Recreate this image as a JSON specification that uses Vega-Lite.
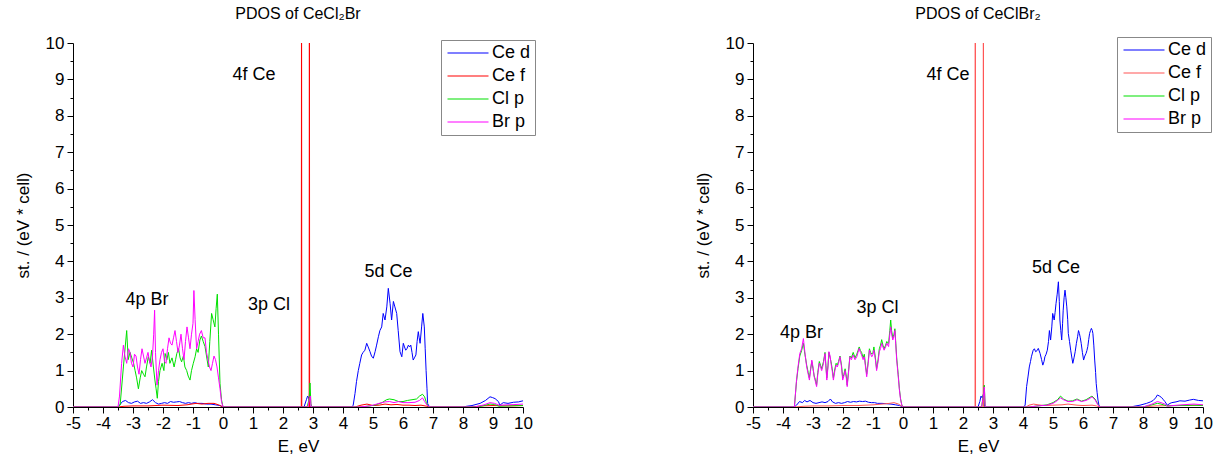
{
"$schema": "https://vega.github.io/schema/vega-lite/v6.json",
"background": "white",
"padding": {"left": 14, "top": 6, "right": 0, "bottom": 0},
"config": {
 "view": {"stroke": null},
 "font": "Liberation Sans",
 "axis": {"domainColor": "black", "tickColor": "black", "labelColor": "black", "titleColor": "black", "labelFont": "Liberation Sans", "titleFont": "Liberation Sans", "labelFontSize": 17, "titleFontSize": 17, "titleFontWeight": "normal", "grid": false, "domainWidth": 1, "tickWidth": 1},
 "legend": {"symbolType": "M-4.1,0H4.1", "symbolSize": 100, "symbolStrokeWidth": 1.2, "symbolOffset": 14, "labelOffset": 15, "labelFontSize": 18, "labelFont": "Liberation Sans", "labelColor": "black", "padding": 4, "rowPadding": 5, "strokeColor": "#888888", "fillColor": "white", "title": null},
 "title": {"fontSize": 16, "fontWeight": "normal", "font": "Liberation Sans", "color": "black"}
},
"datasets": {
"L": [
{"s":"Ce d","E":-5,"v":0},{"s":"Ce d","E":-3.5,"v":0},{"s":"Ce d","E":-3.45,"v":0.05},{"s":"Ce d","E":-3.35,"v":0.15},{"s":"Ce d","E":-3.25,"v":0.18},{"s":"Ce d","E":-3.15,"v":0.12},{"s":"Ce d","E":-3.05,"v":0.1},{"s":"Ce d","E":-2.95,"v":0.14},{"s":"Ce d","E":-2.85,"v":0.16},{"s":"Ce d","E":-2.75,"v":0.1},{"s":"Ce d","E":-2.65,"v":0.12},{"s":"Ce d","E":-2.55,"v":0.1},{"s":"Ce d","E":-2.45,"v":0.14},{"s":"Ce d","E":-2.35,"v":0.2},{"s":"Ce d","E":-2.25,"v":0.12},{"s":"Ce d","E":-2.15,"v":0.08},{"s":"Ce d","E":-2.05,"v":0.1},{"s":"Ce d","E":-1.95,"v":0.12},{"s":"Ce d","E":-1.85,"v":0.1},{"s":"Ce d","E":-1.75,"v":0.15},{"s":"Ce d","E":-1.65,"v":0.13},{"s":"Ce d","E":-1.55,"v":0.14},{"s":"Ce d","E":-1.45,"v":0.15},{"s":"Ce d","E":-1.35,"v":0.12},{"s":"Ce d","E":-1.25,"v":0.1},{"s":"Ce d","E":-1.15,"v":0.12},{"s":"Ce d","E":-1.05,"v":0.1},{"s":"Ce d","E":-0.95,"v":0.12},{"s":"Ce d","E":-0.85,"v":0.1},{"s":"Ce d","E":-0.7,"v":0.1},{"s":"Ce d","E":-0.55,"v":0.08},{"s":"Ce d","E":-0.4,"v":0.08},{"s":"Ce d","E":-0.25,"v":0.06},{"s":"Ce d","E":-0.1,"v":0.04},{"s":"Ce d","E":0,"v":0},{"s":"Ce d","E":2.7,"v":0},{"s":"Ce d","E":2.78,"v":0.2},{"s":"Ce d","E":2.82,"v":0.3},{"s":"Ce d","E":2.86,"v":0.25},{"s":"Ce d","E":2.9,"v":0},
{"s":"Ce d","E":4.3,"v":0},{"s":"Ce d","E":4.34,"v":0.05},{"s":"Ce d","E":4.4,"v":0.37},{"s":"Ce d","E":4.45,"v":0.7},{"s":"Ce d","E":4.51,"v":1.0},{"s":"Ce d","E":4.56,"v":1.2},{"s":"Ce d","E":4.62,"v":1.43},{"s":"Ce d","E":4.67,"v":1.5},{"s":"Ce d","E":4.73,"v":1.56},{"s":"Ce d","E":4.79,"v":1.75},{"s":"Ce d","E":4.84,"v":1.65},{"s":"Ce d","E":4.9,"v":1.52},{"s":"Ce d","E":4.95,"v":1.4},{"s":"Ce d","E":5.01,"v":1.34},{"s":"Ce d","E":5.07,"v":1.52},{"s":"Ce d","E":5.12,"v":1.7},{"s":"Ce d","E":5.18,"v":1.93},{"s":"Ce d","E":5.23,"v":2.1},{"s":"Ce d","E":5.29,"v":2.2},{"s":"Ce d","E":5.34,"v":2.57},{"s":"Ce d","E":5.4,"v":2.39},{"s":"Ce d","E":5.46,"v":2.75},{"s":"Ce d","E":5.51,"v":3.26},{"s":"Ce d","E":5.57,"v":2.84},{"s":"Ce d","E":5.62,"v":2.39},{"s":"Ce d","E":5.68,"v":2.9},{"s":"Ce d","E":5.73,"v":2.75},{"s":"Ce d","E":5.79,"v":2.57},{"s":"Ce d","E":5.84,"v":2.1},{"s":"Ce d","E":5.9,"v":1.52},{"s":"Ce d","E":5.96,"v":1.38},{"s":"Ce d","E":6.01,"v":1.75},{"s":"Ce d","E":6.05,"v":1.65},{"s":"Ce d","E":6.09,"v":1.56},{"s":"Ce d","E":6.13,"v":1.6},{"s":"Ce d","E":6.18,"v":1.7},{"s":"Ce d","E":6.22,"v":1.65},{"s":"Ce d","E":6.26,"v":1.7},{"s":"Ce d","E":6.3,"v":1.5},{"s":"Ce d","E":6.34,"v":1.29},{"s":"Ce d","E":6.38,"v":1.35},{"s":"Ce d","E":6.43,"v":1.43},{"s":"Ce d","E":6.47,"v":1.8},{"s":"Ce d","E":6.51,"v":2.07},{"s":"Ce d","E":6.54,"v":1.9},{"s":"Ce d","E":6.57,"v":1.75},{"s":"Ce d","E":6.62,"v":2.2},{"s":"Ce d","E":6.66,"v":2.57},{"s":"Ce d","E":6.71,"v":2.2},{"s":"Ce d","E":6.74,"v":1.6},{"s":"Ce d","E":6.77,"v":1.0},{"s":"Ce d","E":6.8,"v":0.5},{"s":"Ce d","E":6.82,"v":0.1},{"s":"Ce d","E":6.88,"v":0},
{"s":"Ce d","E":8.0,"v":0},{"s":"Ce d","E":8.12,"v":0.02},{"s":"Ce d","E":8.3,"v":0.04},{"s":"Ce d","E":8.57,"v":0.1},{"s":"Ce d","E":8.75,"v":0.18},{"s":"Ce d","E":8.9,"v":0.28},{"s":"Ce d","E":8.98,"v":0.26},{"s":"Ce d","E":9.07,"v":0.23},{"s":"Ce d","E":9.18,"v":0.15},{"s":"Ce d","E":9.23,"v":0.05},{"s":"Ce d","E":9.34,"v":0.12},{"s":"Ce d","E":9.5,"v":0.1},{"s":"Ce d","E":9.68,"v":0.13},{"s":"Ce d","E":9.85,"v":0.14},{"s":"Ce d","E":10,"v":0.17},

{"s":"Ce f","E":-5,"v":0},{"s":"Ce f","E":-3.5,"v":0},{"s":"Ce f","E":-3.3,"v":0.02},{"s":"Ce f","E":-3,"v":0.03},{"s":"Ce f","E":-2.5,"v":0.03},{"s":"Ce f","E":-2,"v":0.05},{"s":"Ce f","E":-1.5,"v":0.04},{"s":"Ce f","E":-1.2,"v":0.06},{"s":"Ce f","E":-0.9,"v":0.1},{"s":"Ce f","E":-0.7,"v":0.08},{"s":"Ce f","E":-0.5,"v":0.1},{"s":"Ce f","E":-0.3,"v":0.1},{"s":"Ce f","E":-0.15,"v":0.06},{"s":"Ce f","E":0,"v":0},{"s":"Ce f","E":2.61,"v":0},{"s":"Ce f","E":2.618,"v":14},{"s":"Ce f","E":2.626,"v":0},{"s":"Ce f","E":2.872,"v":0},{"s":"Ce f","E":2.88,"v":14},{"s":"Ce f","E":2.888,"v":0},{"s":"Ce f","E":4.4,"v":0},{"s":"Ce f","E":4.6,"v":0.05},{"s":"Ce f","E":4.8,"v":0.08},{"s":"Ce f","E":5.0,"v":0.04},{"s":"Ce f","E":5.2,"v":0.05},{"s":"Ce f","E":5.4,"v":0.08},{"s":"Ce f","E":5.6,"v":0.06},{"s":"Ce f","E":5.8,"v":0.07},{"s":"Ce f","E":6.0,"v":0.05},{"s":"Ce f","E":6.2,"v":0.05},{"s":"Ce f","E":6.4,"v":0.04},{"s":"Ce f","E":6.6,"v":0.05},{"s":"Ce f","E":6.8,"v":0.02},{"s":"Ce f","E":6.9,"v":0},{"s":"Ce f","E":8.3,"v":0},{"s":"Ce f","E":8.6,"v":0.03},{"s":"Ce f","E":9,"v":0.04},{"s":"Ce f","E":9.5,"v":0.03},{"s":"Ce f","E":10,"v":0.04},

{"s":"Cl p","E":-5,"v":0},{"s":"Cl p","E":-3.5,"v":0},{"s":"Cl p","E":-3.43,"v":0.05},{"s":"Cl p","E":-3.32,"v":1.1},{"s":"Cl p","E":-3.21,"v":2.1},{"s":"Cl p","E":-3.16,"v":1.3},{"s":"Cl p","E":-3.1,"v":1.5},{"s":"Cl p","E":-3.04,"v":1.35},{"s":"Cl p","E":-2.98,"v":1.2},{"s":"Cl p","E":-2.93,"v":1.0},{"s":"Cl p","E":-2.88,"v":0.8},{"s":"Cl p","E":-2.82,"v":0.5},{"s":"Cl p","E":-2.76,"v":0.8},{"s":"Cl p","E":-2.71,"v":1.0},{"s":"Cl p","E":-2.65,"v":0.9},{"s":"Cl p","E":-2.6,"v":0.83},{"s":"Cl p","E":-2.55,"v":1.1},{"s":"Cl p","E":-2.49,"v":1.38},{"s":"Cl p","E":-2.43,"v":1.2},{"s":"Cl p","E":-2.38,"v":1.56},{"s":"Cl p","E":-2.32,"v":1.1},{"s":"Cl p","E":-2.27,"v":0.74},{"s":"Cl p","E":-2.23,"v":0.5},{"s":"Cl p","E":-2.19,"v":0.24},{"s":"Cl p","E":-2.15,"v":0.7},{"s":"Cl p","E":-2.1,"v":1.0},{"s":"Cl p","E":-2.03,"v":1.2},{"s":"Cl p","E":-1.97,"v":1.0},{"s":"Cl p","E":-1.93,"v":1.47},{"s":"Cl p","E":-1.87,"v":1.3},{"s":"Cl p","E":-1.82,"v":1.5},{"s":"Cl p","E":-1.77,"v":1.2},{"s":"Cl p","E":-1.7,"v":1.35},{"s":"Cl p","E":-1.63,"v":1.1},{"s":"Cl p","E":-1.58,"v":1.3},{"s":"Cl p","E":-1.54,"v":1.47},{"s":"Cl p","E":-1.48,"v":1.6},{"s":"Cl p","E":-1.43,"v":1.35},{"s":"Cl p","E":-1.38,"v":1.24},{"s":"Cl p","E":-1.32,"v":1.4},{"s":"Cl p","E":-1.27,"v":1.1},{"s":"Cl p","E":-1.21,"v":1.0},{"s":"Cl p","E":-1.16,"v":0.85},{"s":"Cl p","E":-1.1,"v":0.74},{"s":"Cl p","E":-1.05,"v":1.0},{"s":"Cl p","E":-0.99,"v":1.2},{"s":"Cl p","E":-0.93,"v":1.38},{"s":"Cl p","E":-0.88,"v":1.6},{"s":"Cl p","E":-0.83,"v":1.5},{"s":"Cl p","E":-0.77,"v":1.84},{"s":"Cl p","E":-0.72,"v":1.95},{"s":"Cl p","E":-0.66,"v":1.8},{"s":"Cl p","E":-0.6,"v":1.66},{"s":"Cl p","E":-0.55,"v":1.4},{"s":"Cl p","E":-0.49,"v":1.1},{"s":"Cl p","E":-0.44,"v":1.8},{"s":"Cl p","E":-0.38,"v":2.57},{"s":"Cl p","E":-0.33,"v":2.4},{"s":"Cl p","E":-0.27,"v":2.2},{"s":"Cl p","E":-0.23,"v":2.7},{"s":"Cl p","E":-0.19,"v":3.1},{"s":"Cl p","E":-0.15,"v":2.0},{"s":"Cl p","E":-0.1,"v":0.65},{"s":"Cl p","E":-0.05,"v":0.2},{"s":"Cl p","E":0,"v":0},{"s":"Cl p","E":2.8,"v":0},{"s":"Cl p","E":2.87,"v":0.2},{"s":"Cl p","E":2.9,"v":0.66},{"s":"Cl p","E":2.93,"v":0.1},{"s":"Cl p","E":2.96,"v":0},{"s":"Cl p","E":4.6,"v":0},{"s":"Cl p","E":4.9,"v":0.03},{"s":"Cl p","E":5.1,"v":0.06},{"s":"Cl p","E":5.3,"v":0.12},{"s":"Cl p","E":5.45,"v":0.2},{"s":"Cl p","E":5.55,"v":0.22},{"s":"Cl p","E":5.7,"v":0.2},{"s":"Cl p","E":5.85,"v":0.15},{"s":"Cl p","E":6.0,"v":0.15},{"s":"Cl p","E":6.15,"v":0.18},{"s":"Cl p","E":6.3,"v":0.2},{"s":"Cl p","E":6.45,"v":0.22},{"s":"Cl p","E":6.55,"v":0.3},{"s":"Cl p","E":6.65,"v":0.35},{"s":"Cl p","E":6.72,"v":0.28},{"s":"Cl p","E":6.78,"v":0.12},{"s":"Cl p","E":6.85,"v":0},{"s":"Cl p","E":8.5,"v":0},{"s":"Cl p","E":8.8,"v":0.06},{"s":"Cl p","E":8.9,"v":0.08},{"s":"Cl p","E":9.05,"v":0.07},{"s":"Cl p","E":9.2,"v":0.02},{"s":"Cl p","E":9.5,"v":0.03},{"s":"Cl p","E":10,"v":0.04},

{"s":"Br p","E":-5,"v":0},{"s":"Br p","E":-3.5,"v":0},{"s":"Br p","E":-3.45,"v":0.3},{"s":"Br p","E":-3.38,"v":1.2},{"s":"Br p","E":-3.32,"v":1.7},{"s":"Br p","E":-3.27,"v":1.4},{"s":"Br p","E":-3.21,"v":1.2},{"s":"Br p","E":-3.15,"v":1.6},{"s":"Br p","E":-3.1,"v":1.5},{"s":"Br p","E":-3.05,"v":1.2},{"s":"Br p","E":-3.0,"v":1.1},{"s":"Br p","E":-2.95,"v":1.45},{"s":"Br p","E":-2.9,"v":1.4},{"s":"Br p","E":-2.85,"v":1.1},{"s":"Br p","E":-2.8,"v":0.9},{"s":"Br p","E":-2.75,"v":1.3},{"s":"Br p","E":-2.7,"v":1.6},{"s":"Br p","E":-2.65,"v":1.4},{"s":"Br p","E":-2.6,"v":1.2},{"s":"Br p","E":-2.55,"v":1.35},{"s":"Br p","E":-2.5,"v":1.5},{"s":"Br p","E":-2.45,"v":1.25},{"s":"Br p","E":-2.4,"v":1.1},{"s":"Br p","E":-2.35,"v":1.4},{"s":"Br p","E":-2.31,"v":2.0},{"s":"Br p","E":-2.28,"v":2.66},{"s":"Br p","E":-2.25,"v":1.5},{"s":"Br p","E":-2.2,"v":0.6},{"s":"Br p","E":-2.15,"v":1.0},{"s":"Br p","E":-2.1,"v":1.3},{"s":"Br p","E":-2.05,"v":1.5},{"s":"Br p","E":-2.0,"v":1.6},{"s":"Br p","E":-1.95,"v":1.25},{"s":"Br p","E":-1.9,"v":1.2},{"s":"Br p","E":-1.85,"v":1.6},{"s":"Br p","E":-1.8,"v":1.9},{"s":"Br p","E":-1.75,"v":1.75},{"s":"Br p","E":-1.7,"v":1.7},{"s":"Br p","E":-1.65,"v":1.9},{"s":"Br p","E":-1.6,"v":2.1},{"s":"Br p","E":-1.55,"v":1.8},{"s":"Br p","E":-1.5,"v":1.5},{"s":"Br p","E":-1.45,"v":1.7},{"s":"Br p","E":-1.4,"v":2.0},{"s":"Br p","E":-1.35,"v":1.6},{"s":"Br p","E":-1.3,"v":1.3},{"s":"Br p","E":-1.25,"v":1.8},{"s":"Br p","E":-1.2,"v":2.2},{"s":"Br p","E":-1.15,"v":1.9},{"s":"Br p","E":-1.1,"v":1.6},{"s":"Br p","E":-1.05,"v":2.0},{"s":"Br p","E":-1.0,"v":2.3},{"s":"Br p","E":-0.97,"v":3.2},{"s":"Br p","E":-0.93,"v":2.4},{"s":"Br p","E":-0.88,"v":1.6},{"s":"Br p","E":-0.83,"v":1.8},{"s":"Br p","E":-0.78,"v":2.0},{"s":"Br p","E":-0.72,"v":2.1},{"s":"Br p","E":-0.66,"v":1.9},{"s":"Br p","E":-0.6,"v":1.9},{"s":"Br p","E":-0.55,"v":1.5},{"s":"Br p","E":-0.5,"v":1.3},{"s":"Br p","E":-0.45,"v":1.1},{"s":"Br p","E":-0.4,"v":1.0},{"s":"Br p","E":-0.35,"v":1.2},{"s":"Br p","E":-0.3,"v":1.4},{"s":"Br p","E":-0.25,"v":1.3},{"s":"Br p","E":-0.2,"v":1.1},{"s":"Br p","E":-0.15,"v":0.8},{"s":"Br p","E":-0.1,"v":0.5},{"s":"Br p","E":-0.05,"v":0.15},{"s":"Br p","E":0,"v":0},{"s":"Br p","E":2.83,"v":0},{"s":"Br p","E":2.88,"v":0.2},{"s":"Br p","E":2.91,"v":0.3},{"s":"Br p","E":2.94,"v":0},{"s":"Br p","E":4.5,"v":0},{"s":"Br p","E":4.8,"v":0.02},{"s":"Br p","E":5.0,"v":0.05},{"s":"Br p","E":5.2,"v":0.1},{"s":"Br p","E":5.4,"v":0.14},{"s":"Br p","E":5.55,"v":0.15},{"s":"Br p","E":5.7,"v":0.12},{"s":"Br p","E":5.85,"v":0.15},{"s":"Br p","E":6.0,"v":0.12},{"s":"Br p","E":6.2,"v":0.12},{"s":"Br p","E":6.4,"v":0.13},{"s":"Br p","E":6.55,"v":0.18},{"s":"Br p","E":6.65,"v":0.25},{"s":"Br p","E":6.72,"v":0.15},{"s":"Br p","E":6.8,"v":0.05},{"s":"Br p","E":6.9,"v":0},{"s":"Br p","E":8.4,"v":0},{"s":"Br p","E":8.7,"v":0.06},{"s":"Br p","E":8.9,"v":0.12},{"s":"Br p","E":9.05,"v":0.1},{"s":"Br p","E":9.2,"v":0.05},{"s":"Br p","E":9.5,"v":0.06},{"s":"Br p","E":9.8,"v":0.07},{"s":"Br p","E":10,"v":0.08}
],
"R": [
{"s":"Ce d","E":-5,"v":0},{"s":"Ce d","E":-3.62,"v":0},{"s":"Ce d","E":-3.55,"v":0.05},{"s":"Ce d","E":-3.45,"v":0.15},{"s":"Ce d","E":-3.35,"v":0.12},{"s":"Ce d","E":-3.28,"v":0.18},{"s":"Ce d","E":-3.2,"v":0.14},{"s":"Ce d","E":-3.1,"v":0.18},{"s":"Ce d","E":-3.0,"v":0.12},{"s":"Ce d","E":-2.9,"v":0.1},{"s":"Ce d","E":-2.8,"v":0.12},{"s":"Ce d","E":-2.7,"v":0.14},{"s":"Ce d","E":-2.6,"v":0.12},{"s":"Ce d","E":-2.5,"v":0.15},{"s":"Ce d","E":-2.42,"v":0.22},{"s":"Ce d","E":-2.35,"v":0.14},{"s":"Ce d","E":-2.25,"v":0.1},{"s":"Ce d","E":-2.15,"v":0.12},{"s":"Ce d","E":-2.05,"v":0.1},{"s":"Ce d","E":-1.95,"v":0.12},{"s":"Ce d","E":-1.85,"v":0.15},{"s":"Ce d","E":-1.75,"v":0.13},{"s":"Ce d","E":-1.65,"v":0.15},{"s":"Ce d","E":-1.55,"v":0.14},{"s":"Ce d","E":-1.45,"v":0.16},{"s":"Ce d","E":-1.35,"v":0.15},{"s":"Ce d","E":-1.25,"v":0.16},{"s":"Ce d","E":-1.15,"v":0.13},{"s":"Ce d","E":-1.05,"v":0.12},{"s":"Ce d","E":-0.95,"v":0.12},{"s":"Ce d","E":-0.85,"v":0.1},{"s":"Ce d","E":-0.7,"v":0.1},{"s":"Ce d","E":-0.55,"v":0.09},{"s":"Ce d","E":-0.4,"v":0.08},{"s":"Ce d","E":-0.25,"v":0.06},{"s":"Ce d","E":-0.12,"v":0.04},{"s":"Ce d","E":0,"v":0},{"s":"Ce d","E":2.5,"v":0},{"s":"Ce d","E":2.56,"v":0.15},{"s":"Ce d","E":2.6,"v":0.3},{"s":"Ce d","E":2.64,"v":0.25},{"s":"Ce d","E":2.68,"v":0.35},{"s":"Ce d","E":2.72,"v":0},
{"s":"Ce d","E":4.0,"v":0},{"s":"Ce d","E":4.07,"v":0.04},{"s":"Ce d","E":4.12,"v":0.56},{"s":"Ce d","E":4.17,"v":0.85},{"s":"Ce d","E":4.21,"v":1.1},{"s":"Ce d","E":4.25,"v":1.25},{"s":"Ce d","E":4.28,"v":1.38},{"s":"Ce d","E":4.34,"v":1.56},{"s":"Ce d","E":4.38,"v":1.6},{"s":"Ce d","E":4.42,"v":1.52},{"s":"Ce d","E":4.47,"v":1.55},{"s":"Ce d","E":4.51,"v":1.61},{"s":"Ce d","E":4.57,"v":1.47},{"s":"Ce d","E":4.62,"v":1.3},{"s":"Ce d","E":4.66,"v":1.15},{"s":"Ce d","E":4.7,"v":1.25},{"s":"Ce d","E":4.73,"v":1.38},{"s":"Ce d","E":4.77,"v":1.45},{"s":"Ce d","E":4.81,"v":1.56},{"s":"Ce d","E":4.85,"v":1.8},{"s":"Ce d","E":4.88,"v":2.1},{"s":"Ce d","E":4.92,"v":1.84},{"s":"Ce d","E":4.96,"v":2.2},{"s":"Ce d","E":4.99,"v":2.57},{"s":"Ce d","E":5.04,"v":2.39},{"s":"Ce d","E":5.07,"v":2.6},{"s":"Ce d","E":5.1,"v":2.84},{"s":"Ce d","E":5.14,"v":3.1},{"s":"Ce d","E":5.18,"v":3.44},{"s":"Ce d","E":5.21,"v":2.9},{"s":"Ce d","E":5.23,"v":2.39},{"s":"Ce d","E":5.26,"v":2.1},{"s":"Ce d","E":5.29,"v":1.84},{"s":"Ce d","E":5.32,"v":2.3},{"s":"Ce d","E":5.34,"v":2.66},{"s":"Ce d","E":5.37,"v":3.0},{"s":"Ce d","E":5.4,"v":3.21},{"s":"Ce d","E":5.43,"v":3.0},{"s":"Ce d","E":5.46,"v":2.75},{"s":"Ce d","E":5.49,"v":2.4},{"s":"Ce d","E":5.51,"v":2.02},{"s":"Ce d","E":5.55,"v":1.8},{"s":"Ce d","E":5.59,"v":1.56},{"s":"Ce d","E":5.62,"v":1.4},{"s":"Ce d","E":5.66,"v":1.2},{"s":"Ce d","E":5.7,"v":1.35},{"s":"Ce d","E":5.74,"v":1.52},{"s":"Ce d","E":5.78,"v":1.75},{"s":"Ce d","E":5.82,"v":1.93},{"s":"Ce d","E":5.85,"v":2.1},{"s":"Ce d","E":5.88,"v":2.02},{"s":"Ce d","E":5.91,"v":1.9},{"s":"Ce d","E":5.94,"v":1.75},{"s":"Ce d","E":5.98,"v":1.5},{"s":"Ce d","E":6.02,"v":1.29},{"s":"Ce d","E":6.06,"v":1.4},{"s":"Ce d","E":6.1,"v":1.47},{"s":"Ce d","E":6.13,"v":1.55},{"s":"Ce d","E":6.16,"v":1.66},{"s":"Ce d","E":6.19,"v":1.85},{"s":"Ce d","E":6.22,"v":2.02},{"s":"Ce d","E":6.25,"v":2.1},{"s":"Ce d","E":6.28,"v":2.16},{"s":"Ce d","E":6.31,"v":2.1},{"s":"Ce d","E":6.33,"v":2.02},{"s":"Ce d","E":6.36,"v":1.7},{"s":"Ce d","E":6.39,"v":1.29},{"s":"Ce d","E":6.42,"v":0.95},{"s":"Ce d","E":6.44,"v":0.65},{"s":"Ce d","E":6.47,"v":0.4},{"s":"Ce d","E":6.5,"v":0.19},{"s":"Ce d","E":6.53,"v":0.05},{"s":"Ce d","E":6.56,"v":0},
{"s":"Ce d","E":7.6,"v":0},{"s":"Ce d","E":7.7,"v":0.02},{"s":"Ce d","E":7.9,"v":0.05},{"s":"Ce d","E":8.12,"v":0.1},{"s":"Ce d","E":8.25,"v":0.14},{"s":"Ce d","E":8.34,"v":0.18},{"s":"Ce d","E":8.42,"v":0.25},{"s":"Ce d","E":8.48,"v":0.33},{"s":"Ce d","E":8.55,"v":0.3},{"s":"Ce d","E":8.62,"v":0.26},{"s":"Ce d","E":8.68,"v":0.2},{"s":"Ce d","E":8.73,"v":0.15},{"s":"Ce d","E":8.81,"v":0.05},{"s":"Ce d","E":8.9,"v":0.1},{"s":"Ce d","E":8.96,"v":0.12},{"s":"Ce d","E":9.1,"v":0.14},{"s":"Ce d","E":9.23,"v":0.17},{"s":"Ce d","E":9.4,"v":0.16},{"s":"Ce d","E":9.55,"v":0.19},{"s":"Ce d","E":9.68,"v":0.21},{"s":"Ce d","E":9.85,"v":0.18},{"s":"Ce d","E":10,"v":0.17},

{"s":"Ce f","E":-5,"v":0},{"s":"Ce f","E":-3.6,"v":0},{"s":"Ce f","E":-3.3,"v":0.02},{"s":"Ce f","E":-3.0,"v":0.03},{"s":"Ce f","E":-2.5,"v":0.03},{"s":"Ce f","E":-2.0,"v":0.04},{"s":"Ce f","E":-1.5,"v":0.04},{"s":"Ce f","E":-1.0,"v":0.06},{"s":"Ce f","E":-0.7,"v":0.08},{"s":"Ce f","E":-0.45,"v":0.1},{"s":"Ce f","E":-0.3,"v":0.12},{"s":"Ce f","E":-0.15,"v":0.08},{"s":"Ce f","E":0,"v":0},{"s":"Ce f","E":2.402,"v":0},{"s":"Ce f","E":2.41,"v":14},{"s":"Ce f","E":2.418,"v":0},{"s":"Ce f","E":2.672,"v":0},{"s":"Ce f","E":2.68,"v":14},{"s":"Ce f","E":2.688,"v":0},{"s":"Ce f","E":4.1,"v":0},{"s":"Ce f","E":4.2,"v":0.05},{"s":"Ce f","E":4.35,"v":0.08},{"s":"Ce f","E":4.5,"v":0.06},{"s":"Ce f","E":4.7,"v":0.04},{"s":"Ce f","E":5.0,"v":0.05},{"s":"Ce f","E":5.3,"v":0.06},{"s":"Ce f","E":5.5,"v":0.08},{"s":"Ce f","E":5.8,"v":0.05},{"s":"Ce f","E":6.0,"v":0.04},{"s":"Ce f","E":6.3,"v":0.05},{"s":"Ce f","E":6.45,"v":0.03},{"s":"Ce f","E":6.56,"v":0},{"s":"Ce f","E":8.0,"v":0},{"s":"Ce f","E":8.4,"v":0.03},{"s":"Ce f","E":9,"v":0.04},{"s":"Ce f","E":9.5,"v":0.04},{"s":"Ce f","E":10,"v":0.05},

{"s":"Cl p","E":-5,"v":0},{"s":"Cl p","E":-3.62,"v":0},{"s":"Cl p","E":-3.55,"v":0.7},{"s":"Cl p","E":-3.5,"v":1.05},{"s":"Cl p","E":-3.44,"v":1.4},{"s":"Cl p","E":-3.38,"v":1.55},{"s":"Cl p","E":-3.32,"v":1.75},{"s":"Cl p","E":-3.27,"v":1.45},{"s":"Cl p","E":-3.21,"v":1.15},{"s":"Cl p","E":-3.16,"v":0.95},{"s":"Cl p","E":-3.12,"v":0.8},{"s":"Cl p","E":-3.08,"v":1.05},{"s":"Cl p","E":-3.04,"v":1.25},{"s":"Cl p","E":-3.0,"v":1.05},{"s":"Cl p","E":-2.96,"v":0.85},{"s":"Cl p","E":-2.92,"v":0.75},{"s":"Cl p","E":-2.88,"v":0.6},{"s":"Cl p","E":-2.84,"v":0.95},{"s":"Cl p","E":-2.79,"v":1.25},{"s":"Cl p","E":-2.75,"v":1.15},{"s":"Cl p","E":-2.71,"v":1.05},{"s":"Cl p","E":-2.65,"v":1.25},{"s":"Cl p","E":-2.6,"v":1.5},{"s":"Cl p","E":-2.57,"v":1.15},{"s":"Cl p","E":-2.54,"v":0.8},{"s":"Cl p","E":-2.5,"v":1.15},{"s":"Cl p","E":-2.47,"v":1.5},{"s":"Cl p","E":-2.43,"v":1.35},{"s":"Cl p","E":-2.4,"v":1.25},{"s":"Cl p","E":-2.36,"v":1.05},{"s":"Cl p","E":-2.32,"v":0.8},{"s":"Cl p","E":-2.27,"v":1.05},{"s":"Cl p","E":-2.23,"v":1.2},{"s":"Cl p","E":-2.19,"v":1.15},{"s":"Cl p","E":-2.15,"v":1.25},{"s":"Cl p","E":-2.1,"v":1.4},{"s":"Cl p","E":-2.05,"v":1.15},{"s":"Cl p","E":-2.01,"v":0.8},{"s":"Cl p","E":-1.97,"v":0.9},{"s":"Cl p","E":-1.93,"v":1.05},{"s":"Cl p","E":-1.89,"v":0.85},{"s":"Cl p","E":-1.86,"v":0.6},{"s":"Cl p","E":-1.82,"v":0.95},{"s":"Cl p","E":-1.77,"v":1.4},{"s":"Cl p","E":-1.72,"v":1.35},{"s":"Cl p","E":-1.66,"v":1.5},{"s":"Cl p","E":-1.6,"v":1.35},{"s":"Cl p","E":-1.54,"v":1.45},{"s":"Cl p","E":-1.5,"v":1.55},{"s":"Cl p","E":-1.46,"v":1.65},{"s":"Cl p","E":-1.42,"v":1.55},{"s":"Cl p","E":-1.38,"v":1.5},{"s":"Cl p","E":-1.33,"v":1.35},{"s":"Cl p","E":-1.29,"v":1.45},{"s":"Cl p","E":-1.25,"v":1.15},{"s":"Cl p","E":-1.21,"v":0.9},{"s":"Cl p","E":-1.16,"v":1.25},{"s":"Cl p","E":-1.12,"v":1.6},{"s":"Cl p","E":-1.08,"v":1.5},{"s":"Cl p","E":-1.04,"v":1.45},{"s":"Cl p","E":-1.0,"v":1.5},{"s":"Cl p","E":-0.97,"v":1.65},{"s":"Cl p","E":-0.92,"v":1.35},{"s":"Cl p","E":-0.88,"v":1.05},{"s":"Cl p","E":-0.83,"v":1.3},{"s":"Cl p","E":-0.79,"v":1.6},{"s":"Cl p","E":-0.75,"v":1.7},{"s":"Cl p","E":-0.71,"v":1.85},{"s":"Cl p","E":-0.67,"v":1.7},{"s":"Cl p","E":-0.63,"v":1.6},{"s":"Cl p","E":-0.58,"v":1.7},{"s":"Cl p","E":-0.54,"v":1.8},{"s":"Cl p","E":-0.51,"v":1.75},{"s":"Cl p","E":-0.48,"v":1.75},{"s":"Cl p","E":-0.44,"v":2.1},{"s":"Cl p","E":-0.41,"v":2.39},{"s":"Cl p","E":-0.38,"v":2.1},{"s":"Cl p","E":-0.34,"v":1.9},{"s":"Cl p","E":-0.3,"v":2.0},{"s":"Cl p","E":-0.27,"v":2.15},{"s":"Cl p","E":-0.24,"v":1.75},{"s":"Cl p","E":-0.21,"v":1.35},{"s":"Cl p","E":-0.16,"v":0.9},{"s":"Cl p","E":-0.12,"v":0.5},{"s":"Cl p","E":-0.08,"v":0.22},{"s":"Cl p","E":-0.04,"v":0.06},{"s":"Cl p","E":0,"v":0},{"s":"Cl p","E":2.62,"v":0},{"s":"Cl p","E":2.68,"v":0.35},{"s":"Cl p","E":2.71,"v":0.6},{"s":"Cl p","E":2.74,"v":0},{"s":"Cl p","E":4.2,"v":0},{"s":"Cl p","E":4.5,"v":0.03},{"s":"Cl p","E":4.8,"v":0.06},{"s":"Cl p","E":5.0,"v":0.12},{"s":"Cl p","E":5.15,"v":0.2},{"s":"Cl p","E":5.25,"v":0.3},{"s":"Cl p","E":5.35,"v":0.22},{"s":"Cl p","E":5.5,"v":0.16},{"s":"Cl p","E":5.65,"v":0.17},{"s":"Cl p","E":5.8,"v":0.22},{"s":"Cl p","E":5.95,"v":0.16},{"s":"Cl p","E":6.1,"v":0.2},{"s":"Cl p","E":6.2,"v":0.25},{"s":"Cl p","E":6.3,"v":0.3},{"s":"Cl p","E":6.4,"v":0.22},{"s":"Cl p","E":6.48,"v":0.1},{"s":"Cl p","E":6.56,"v":0},{"s":"Cl p","E":8.0,"v":0},{"s":"Cl p","E":8.3,"v":0.06},{"s":"Cl p","E":8.48,"v":0.1},{"s":"Cl p","E":8.6,"v":0.08},{"s":"Cl p","E":8.8,"v":0.03},{"s":"Cl p","E":9.2,"v":0.04},{"s":"Cl p","E":9.7,"v":0.05},{"s":"Cl p","E":10,"v":0.04},

{"s":"Br p","E":-5,"v":0},{"s":"Br p","E":-3.62,"v":0},{"s":"Br p","E":-3.55,"v":0.74},{"s":"Br p","E":-3.5,"v":1.1},{"s":"Br p","E":-3.44,"v":1.47},{"s":"Br p","E":-3.38,"v":1.6},{"s":"Br p","E":-3.32,"v":1.88},{"s":"Br p","E":-3.27,"v":1.5},{"s":"Br p","E":-3.21,"v":1.1},{"s":"Br p","E":-3.16,"v":0.9},{"s":"Br p","E":-3.12,"v":0.74},{"s":"Br p","E":-3.08,"v":1.0},{"s":"Br p","E":-3.04,"v":1.29},{"s":"Br p","E":-3.0,"v":1.1},{"s":"Br p","E":-2.96,"v":0.83},{"s":"Br p","E":-2.92,"v":0.7},{"s":"Br p","E":-2.88,"v":0.56},{"s":"Br p","E":-2.84,"v":0.9},{"s":"Br p","E":-2.79,"v":1.2},{"s":"Br p","E":-2.75,"v":1.1},{"s":"Br p","E":-2.71,"v":1.0},{"s":"Br p","E":-2.65,"v":1.2},{"s":"Br p","E":-2.6,"v":1.47},{"s":"Br p","E":-2.57,"v":1.1},{"s":"Br p","E":-2.54,"v":0.74},{"s":"Br p","E":-2.5,"v":1.1},{"s":"Br p","E":-2.47,"v":1.52},{"s":"Br p","E":-2.43,"v":1.4},{"s":"Br p","E":-2.4,"v":1.2},{"s":"Br p","E":-2.36,"v":1.0},{"s":"Br p","E":-2.32,"v":0.74},{"s":"Br p","E":-2.27,"v":1.0},{"s":"Br p","E":-2.23,"v":1.15},{"s":"Br p","E":-2.19,"v":1.1},{"s":"Br p","E":-2.15,"v":1.2},{"s":"Br p","E":-2.1,"v":1.38},{"s":"Br p","E":-2.05,"v":1.1},{"s":"Br p","E":-2.01,"v":0.74},{"s":"Br p","E":-1.97,"v":0.85},{"s":"Br p","E":-1.93,"v":1.0},{"s":"Br p","E":-1.89,"v":0.8},{"s":"Br p","E":-1.86,"v":0.56},{"s":"Br p","E":-1.82,"v":0.9},{"s":"Br p","E":-1.77,"v":1.38},{"s":"Br p","E":-1.72,"v":1.3},{"s":"Br p","E":-1.66,"v":1.43},{"s":"Br p","E":-1.6,"v":1.3},{"s":"Br p","E":-1.54,"v":1.38},{"s":"Br p","E":-1.5,"v":1.5},{"s":"Br p","E":-1.46,"v":1.61},{"s":"Br p","E":-1.42,"v":1.5},{"s":"Br p","E":-1.38,"v":1.43},{"s":"Br p","E":-1.33,"v":1.3},{"s":"Br p","E":-1.29,"v":1.38},{"s":"Br p","E":-1.25,"v":1.1},{"s":"Br p","E":-1.21,"v":0.83},{"s":"Br p","E":-1.16,"v":1.2},{"s":"Br p","E":-1.12,"v":1.56},{"s":"Br p","E":-1.08,"v":1.45},{"s":"Br p","E":-1.04,"v":1.38},{"s":"Br p","E":-1.0,"v":1.45},{"s":"Br p","E":-0.97,"v":1.56},{"s":"Br p","E":-0.92,"v":1.3},{"s":"Br p","E":-0.88,"v":1.0},{"s":"Br p","E":-0.83,"v":1.25},{"s":"Br p","E":-0.79,"v":1.52},{"s":"Br p","E":-0.75,"v":1.6},{"s":"Br p","E":-0.71,"v":1.75},{"s":"Br p","E":-0.67,"v":1.65},{"s":"Br p","E":-0.63,"v":1.56},{"s":"Br p","E":-0.58,"v":1.65},{"s":"Br p","E":-0.54,"v":1.75},{"s":"Br p","E":-0.51,"v":1.7},{"s":"Br p","E":-0.48,"v":1.66},{"s":"Br p","E":-0.44,"v":2.0},{"s":"Br p","E":-0.41,"v":2.2},{"s":"Br p","E":-0.38,"v":2.0},{"s":"Br p","E":-0.34,"v":1.84},{"s":"Br p","E":-0.3,"v":1.95},{"s":"Br p","E":-0.27,"v":2.1},{"s":"Br p","E":-0.24,"v":1.7},{"s":"Br p","E":-0.21,"v":1.29},{"s":"Br p","E":-0.16,"v":0.85},{"s":"Br p","E":-0.12,"v":0.47},{"s":"Br p","E":-0.08,"v":0.2},{"s":"Br p","E":-0.04,"v":0.05},{"s":"Br p","E":0,"v":0},{"s":"Br p","E":2.62,"v":0},{"s":"Br p","E":2.68,"v":0.3},{"s":"Br p","E":2.71,"v":0.55},{"s":"Br p","E":2.74,"v":0},{"s":"Br p","E":4.2,"v":0},{"s":"Br p","E":4.5,"v":0.03},{"s":"Br p","E":4.8,"v":0.05},{"s":"Br p","E":5.0,"v":0.1},{"s":"Br p","E":5.15,"v":0.18},{"s":"Br p","E":5.25,"v":0.25},{"s":"Br p","E":5.35,"v":0.2},{"s":"Br p","E":5.5,"v":0.15},{"s":"Br p","E":5.65,"v":0.15},{"s":"Br p","E":5.8,"v":0.2},{"s":"Br p","E":5.95,"v":0.15},{"s":"Br p","E":6.1,"v":0.18},{"s":"Br p","E":6.2,"v":0.22},{"s":"Br p","E":6.3,"v":0.28},{"s":"Br p","E":6.4,"v":0.2},{"s":"Br p","E":6.48,"v":0.08},{"s":"Br p","E":6.56,"v":0},{"s":"Br p","E":8.0,"v":0},{"s":"Br p","E":8.3,"v":0.08},{"s":"Br p","E":8.48,"v":0.15},{"s":"Br p","E":8.6,"v":0.12},{"s":"Br p","E":8.73,"v":0.08},{"s":"Br p","E":8.81,"v":0.02},{"s":"Br p","E":9.0,"v":0.04},{"s":"Br p","E":9.3,"v":0.06},{"s":"Br p","E":9.7,"v":0.08},{"s":"Br p","E":10,"v":0.06}
],
"LA": [{"t":"4p Br","E":-2.53,"v":2.94},{"t":"3p Cl","E":1.53,"v":2.8},{"t":"5d Ce","E":5.52,"v":3.71},{"t":"4f Ce","E":1.03,"v":9.12}],
"RA": [{"t":"4p Br","E":-3.38,"v":2.04},{"t":"3p Cl","E":-0.85,"v":2.73},{"t":"5d Ce","E":5.1,"v":3.82},{"t":"4f Ce","E":1.5,"v":9.12}]
},
"spacing": 158,
"resolve": {"scale": {"color": "independent"}, "legend": {"color": "independent"}},
"hconcat": [
{
 "title": {"text": "PDOS of CeCl₂Br", "offset": 12},
 "width": 450, "height": 364,
 "layer": [
  {"data": {"name": "L"},
   "mark": {"type": "line", "strokeWidth": 1, "clip": true},
   "encoding": {
    "x": {"field": "E", "type": "quantitative", "scale": {"domain": [-5, 10], "nice": false}, "axis": {"title": "E, eV", "values": [-5,-4.5,-4,-3.5,-3,-2.5,-2,-1.5,-1,-0.5,0,0.5,1,1.5,2,2.5,3,3.5,4,4.5,5,5.5,6,6.5,7,7.5,8,8.5,9,9.5,10], "labelExpr": "datum.value % 1 == 0 ? '' + datum.value : ''", "tickSize": {"condition": {"test": "datum.value % 1 != 0", "value": 3}, "value": 6}, "labelPadding": 2, "titlePadding": 7, "labelFlush": false, "labelOverlap": false}},
    "y": {"field": "v", "type": "quantitative", "scale": {"domain": [0, 10], "nice": false}, "axis": {"title": "st. / (eV * cell)", "values": [0,0.5,1,1.5,2,2.5,3,3.5,4,4.5,5,5.5,6,6.5,7,7.5,8,8.5,9,9.5,10], "labelExpr": "datum.value % 1 == 0 ? '' + datum.value : ''", "tickSize": {"condition": {"test": "datum.value % 1 != 0", "value": 3}, "value": 6}, "labelPadding": 3, "titlePadding": 13, "labelFlush": false, "labelOverlap": false}},
    "color": {"field": "s", "type": "nominal", "sort": ["Ce d", "Ce f", "Cl p", "Br p"], "scale": {"domain": ["Ce d", "Ce f", "Cl p", "Br p"], "range": ["#0000ff", "#ff0000", "#00e000", "#ff00ff"]}, "legend": {"orient": "none", "legendX": 368, "legendY": -3}}
   }
  },
  {"data": {"name": "LA"},
   "mark": {"type": "text", "fontSize": 18, "font": "Liberation Sans", "color": "black", "align": "center", "baseline": "middle"},
   "encoding": {
    "x": {"field": "E", "type": "quantitative", "scale": {"domain": [-5, 10], "nice": false}, "axis": {"title": "E, eV", "values": [-5,-4.5,-4,-3.5,-3,-2.5,-2,-1.5,-1,-0.5,0,0.5,1,1.5,2,2.5,3,3.5,4,4.5,5,5.5,6,6.5,7,7.5,8,8.5,9,9.5,10], "labelExpr": "datum.value % 1 == 0 ? '' + datum.value : ''", "tickSize": {"condition": {"test": "datum.value % 1 != 0", "value": 3}, "value": 6}, "labelPadding": 2, "titlePadding": 7, "labelFlush": false, "labelOverlap": false}},
    "y": {"field": "v", "type": "quantitative", "scale": {"domain": [0, 10], "nice": false}, "axis": {"title": "st. / (eV * cell)", "values": [0,0.5,1,1.5,2,2.5,3,3.5,4,4.5,5,5.5,6,6.5,7,7.5,8,8.5,9,9.5,10], "labelExpr": "datum.value % 1 == 0 ? '' + datum.value : ''", "tickSize": {"condition": {"test": "datum.value % 1 != 0", "value": 3}, "value": 6}, "labelPadding": 3, "titlePadding": 13, "labelFlush": false, "labelOverlap": false}},
    "text": {"field": "t"}}
  }
 ]
},
{
 "title": {"text": "PDOS of CeClBr₂", "offset": 12},
 "width": 450, "height": 364,
 "layer": [
  {"data": {"name": "R"},
   "mark": {"type": "line", "strokeWidth": 1, "clip": true},
   "encoding": {
    "x": {"field": "E", "type": "quantitative", "scale": {"domain": [-5, 10], "nice": false}, "axis": {"title": "E, eV", "values": [-5,-4.5,-4,-3.5,-3,-2.5,-2,-1.5,-1,-0.5,0,0.5,1,1.5,2,2.5,3,3.5,4,4.5,5,5.5,6,6.5,7,7.5,8,8.5,9,9.5,10], "labelExpr": "datum.value % 1 == 0 ? '' + datum.value : ''", "tickSize": {"condition": {"test": "datum.value % 1 != 0", "value": 3}, "value": 6}, "labelPadding": 2, "titlePadding": 7, "labelFlush": false, "labelOverlap": false}},
    "y": {"field": "v", "type": "quantitative", "scale": {"domain": [0, 10], "nice": false}, "axis": {"title": "st. / (eV * cell)", "values": [0,0.5,1,1.5,2,2.5,3,3.5,4,4.5,5,5.5,6,6.5,7,7.5,8,8.5,9,9.5,10], "labelExpr": "datum.value % 1 == 0 ? '' + datum.value : ''", "tickSize": {"condition": {"test": "datum.value % 1 != 0", "value": 3}, "value": 6}, "labelPadding": 3, "titlePadding": 13, "labelFlush": false, "labelOverlap": false}},
    "color": {"field": "s", "type": "nominal", "sort": ["Ce d", "Ce f", "Cl p", "Br p"], "scale": {"domain": ["Ce d", "Ce f", "Cl p", "Br p"], "range": ["#0000ff", "#ff5555", "#00e000", "#ff00ff"]}, "legend": {"orient": "none", "legendX": 364, "legendY": -6}}
   }
  },
  {"data": {"name": "RA"},
   "mark": {"type": "text", "fontSize": 18, "font": "Liberation Sans", "color": "black", "align": "center", "baseline": "middle"},
   "encoding": {
    "x": {"field": "E", "type": "quantitative", "scale": {"domain": [-5, 10], "nice": false}, "axis": {"title": "E, eV", "values": [-5,-4.5,-4,-3.5,-3,-2.5,-2,-1.5,-1,-0.5,0,0.5,1,1.5,2,2.5,3,3.5,4,4.5,5,5.5,6,6.5,7,7.5,8,8.5,9,9.5,10], "labelExpr": "datum.value % 1 == 0 ? '' + datum.value : ''", "tickSize": {"condition": {"test": "datum.value % 1 != 0", "value": 3}, "value": 6}, "labelPadding": 2, "titlePadding": 7, "labelFlush": false, "labelOverlap": false}},
    "y": {"field": "v", "type": "quantitative", "scale": {"domain": [0, 10], "nice": false}, "axis": {"title": "st. / (eV * cell)", "values": [0,0.5,1,1.5,2,2.5,3,3.5,4,4.5,5,5.5,6,6.5,7,7.5,8,8.5,9,9.5,10], "labelExpr": "datum.value % 1 == 0 ? '' + datum.value : ''", "tickSize": {"condition": {"test": "datum.value % 1 != 0", "value": 3}, "value": 6}, "labelPadding": 3, "titlePadding": 13, "labelFlush": false, "labelOverlap": false}},
    "text": {"field": "t"}}
  }
 ]
}
]
}
